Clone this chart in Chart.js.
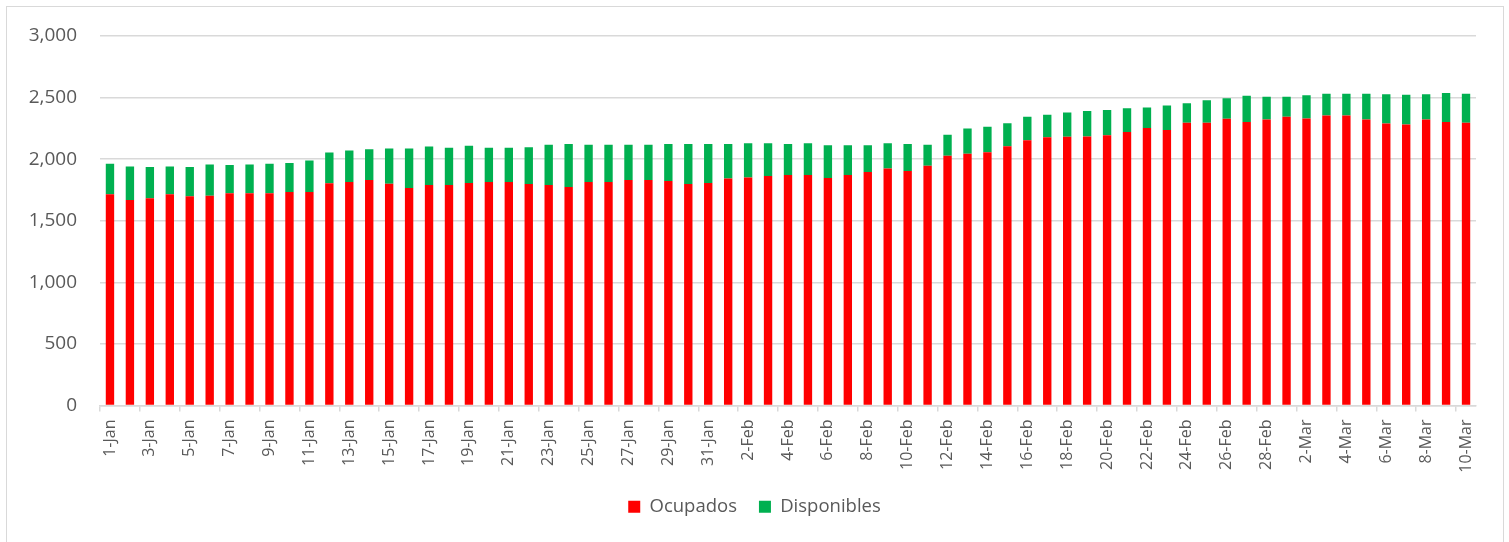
<!DOCTYPE html>
<html>
<head>
<meta charset="utf-8">
<script src="https://cdn.jsdelivr.net/npm/chart.js@4"></script>
<style>
  html, body { margin: 0; padding: 0; background: #fff; }
  #frame { position: absolute; left: 6px; top: 6px; width: 1496px; height: 600px; border: 1px solid #d9d9d9; }
  #wrap { position: absolute; left: 0; top: 0; width: 1509px; height: 542px; }
</style>
</head>
<body>
<div id="frame"></div>
<div id="wrap"><canvas id="chart"></canvas></div>
<script>
const labels = [
  '1-Jan','2-Jan','3-Jan','4-Jan','5-Jan','6-Jan','7-Jan','8-Jan','9-Jan','10-Jan',
  '11-Jan','12-Jan','13-Jan','14-Jan','15-Jan','16-Jan','17-Jan','18-Jan','19-Jan','20-Jan',
  '21-Jan','22-Jan','23-Jan','24-Jan','25-Jan','26-Jan','27-Jan','28-Jan','29-Jan','30-Jan',
  '31-Jan','1-Feb','2-Feb','3-Feb','4-Feb','5-Feb','6-Feb','7-Feb','8-Feb','9-Feb',
  '10-Feb','11-Feb','12-Feb','13-Feb','14-Feb','15-Feb','16-Feb','17-Feb','18-Feb','19-Feb',
  '20-Feb','21-Feb','22-Feb','23-Feb','24-Feb','25-Feb','26-Feb','27-Feb','28-Feb','1-Mar',
  '2-Mar','3-Mar','4-Mar','5-Mar','6-Mar','7-Mar','8-Mar','9-Mar','10-Mar'
];

const ocupados = [
  1715, 1669, 1683, 1715, 1699, 1702, 1723, 1723, 1723, 1734, 1734, 1804,
  1815, 1831, 1801, 1766, 1790, 1790, 1806, 1815, 1815, 1798, 1790, 1774,
  1815, 1815, 1831, 1831, 1823, 1798, 1806, 1844, 1852, 1863, 1871, 1871,
  1847, 1871, 1895, 1925, 1903, 1947, 2027, 2043, 2056, 2105, 2153, 2177,
  2183, 2185, 2194, 2221, 2253, 2237, 2296, 2296, 2328, 2301, 2322, 2344,
  2330, 2355, 2355, 2322, 2290, 2282, 2322, 2301, 2296
];

const disponibles = [
  248, 272, 253, 226, 237, 255, 229, 234, 240, 234, 256, 250,
  255, 250, 285, 320, 312, 302, 302, 277, 277, 299, 328, 350,
  303, 303, 287, 287, 301, 326, 318, 280, 277, 266, 253, 258,
  266, 242, 218, 204, 221, 171, 172, 205, 208, 186, 191, 183,
  196, 206, 205, 192, 166, 198, 158, 182, 167, 213, 184, 162,
  189, 177, 177, 210, 237, 240, 205, 237, 236
];

const yTicks = [0, 500, 1000, 1500, 2000, 2500, 3000];

const textColor = '#595959';
const gridColor = '#d9d9d9';

new Chart(document.getElementById('chart'), {
  type: 'bar',
  data: {
    labels: labels,
    datasets: [{
      label: 'Ocupados',
      data: ocupados,
      backgroundColor: '#ff0000',
      barPercentage: 0.42,
      categoryPercentage: 1
    }, {
      label: 'Disponibles',
      data: disponibles,
      backgroundColor: '#00b050',
      barPercentage: 0.42,
      categoryPercentage: 1
    }]
  },
  options: {
    responsive: true,
    maintainAspectRatio: false,
    animation: false,
    layout: { padding: { top: 36, right: 0, bottom: 16, left: 0 } },
    plugins: {
      tooltip: { enabled: false },
      legend: {
        position: 'bottom',
        labels: {
          color: textColor,
          font: { family: 'Open Sans', size: 18.5 },
          boxWidth: 12,
          boxHeight: 12,
          padding: 22
        }
      }
    },
    scales: {
      x: {
        stacked: true,
        afterFit: s => { s.height = 70; },
        border: { display: true, color: gridColor, width: 1.5 },
        grid: {
          drawOnChartArea: false,
          tickLength: 6,
          lineWidth: 1.5,
          color: ctx => (ctx.index % 2 === 0 ? gridColor : 'rgba(0,0,0,0)')
        },
        ticks: {
          autoSkip: false,
          minRotation: 90,
          maxRotation: 90,
          padding: 8,
          color: textColor,
          font: { family: 'Open Sans', size: 16 },
          callback: function (val, i) { return i % 2 === 0 ? this.getLabelForValue(val) : ''; }
        }
      },
      y: {
        stacked: true,
        min: 0,
        max: 3000,
        afterFit: s => { s.width = 100; },
        afterBuildTicks: s => { s.ticks = yTicks.map(v => ({ value: v })); },
        border: { display: false },
        grid: { color: gridColor, lineWidth: 1.5, drawTicks: false },
        ticks: {
          padding: 23,
          color: textColor,
          font: { family: 'Open Sans', size: 19 },
          callback: v => v.toLocaleString('en-US')
        }
      },
      yRight: {
        position: 'right',
        min: 0,
        max: 3000,
        afterFit: s => { s.width = 33; },
        border: { display: false },
        grid: { display: false },
        ticks: { display: false }
      }
    }
  }
});
</script>
</body>
</html>
